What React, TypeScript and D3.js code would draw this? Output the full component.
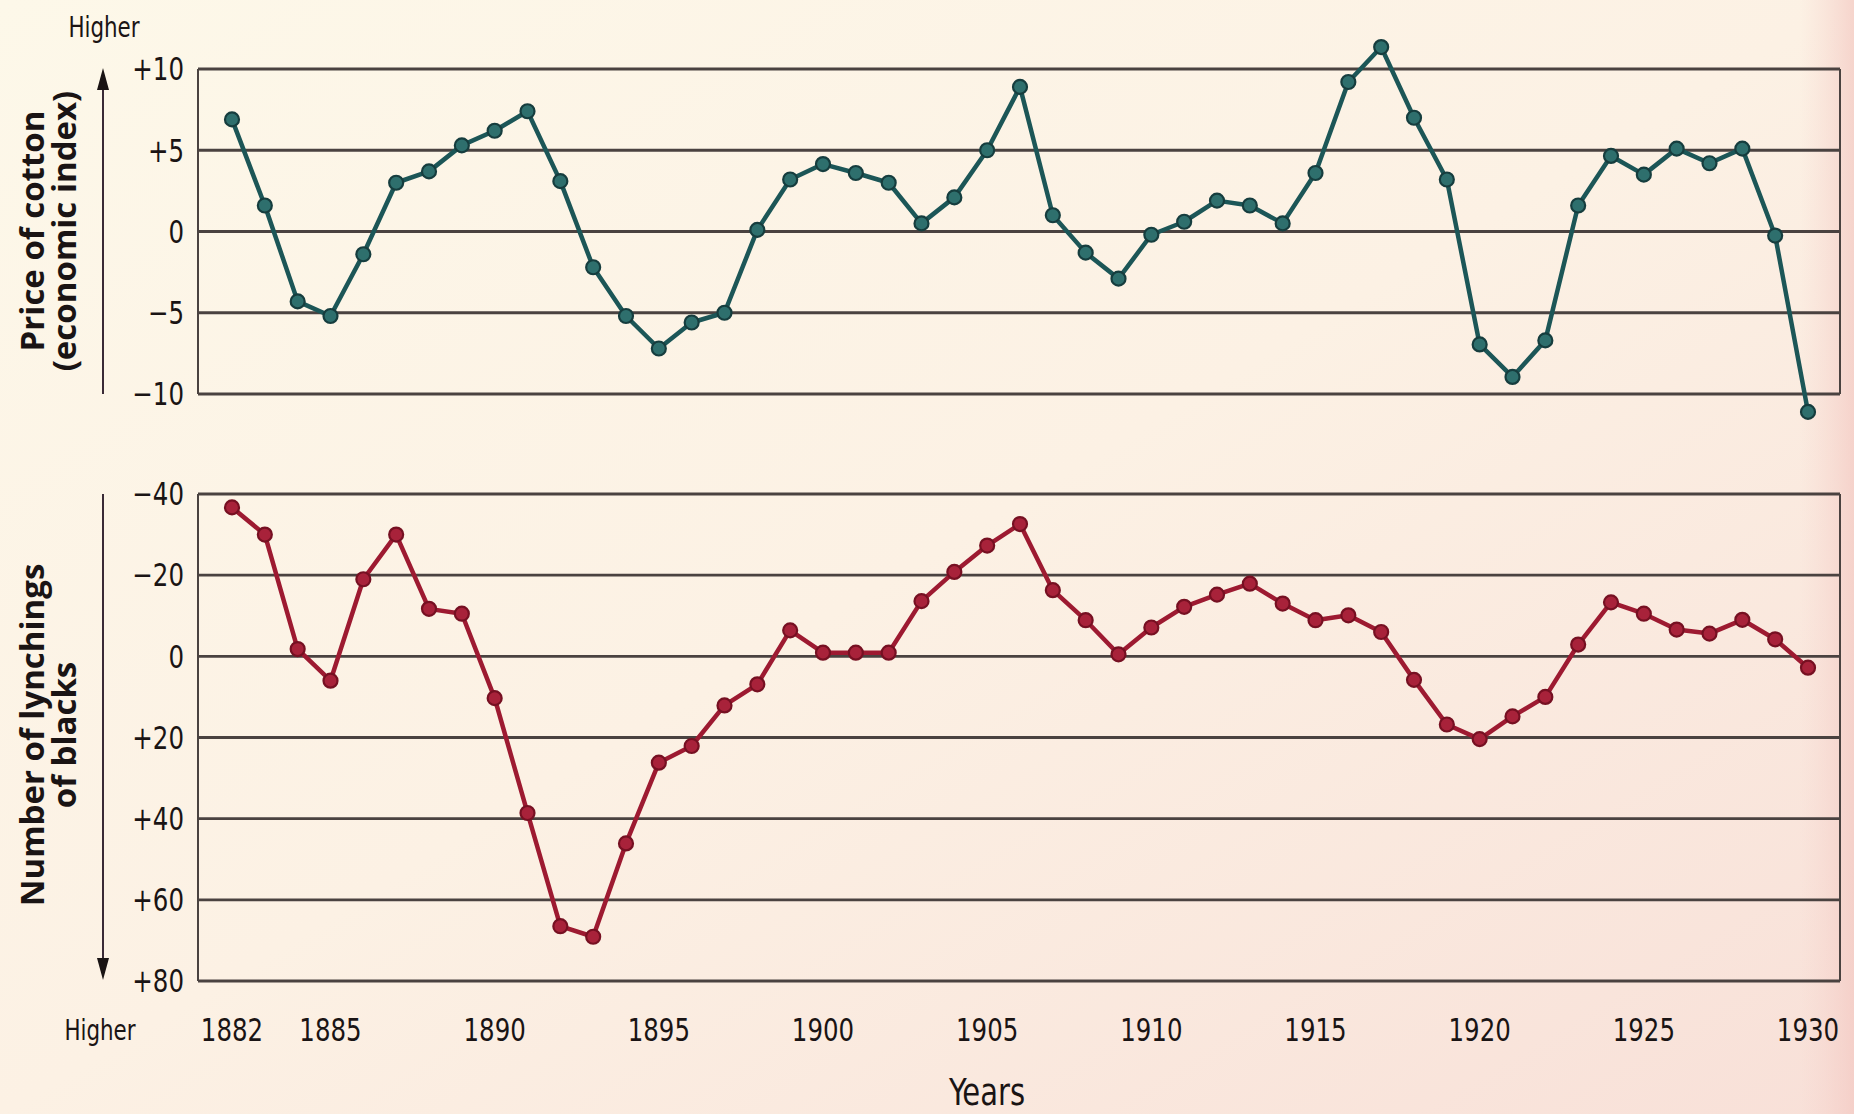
import React from "react";
import * as d3 from "d3";

const years: number[] = d3.range(1882, 1931);

const cottonPrice: number[] = [
  6.9, 1.6, -4.3, -5.2, -1.4, 3.0, 3.7, 5.3, 6.2, 7.4,
  3.1, -2.2, -5.2, -7.2, -5.6, -5.0, 0.1, 3.2, 4.15, 3.6,
  3.0, 0.5, 2.1, 5.0, 8.9, 1.0, -1.3, -2.9, -0.2, 0.6,
  1.9, 1.6, 0.5, 3.6, 9.2, 11.35, 7.0, 3.2, -6.95, -8.95,
  -6.7, 1.6, 4.65, 3.5, 5.1, 4.2, 5.1, -0.25, -11.1,
];

const lynchings: number[] = [
  -36.7, -30.0, -1.8, 6.0, -19.0, -30.0, -11.7, -10.5, 10.3, 38.6,
  66.5, 69.1, 46.1, 26.2, 22.1, 12.1, 6.9, -6.4, -0.9, -0.9,
  -0.9, -13.6, -20.8, -27.3, -32.6, -16.3, -8.9, -0.5, -7.1, -12.2,
  -15.2, -17.9, -13.0, -8.9, -10.1, -6.0, 5.8, 16.8, 20.4, 14.8,
  10.0, -2.9, -13.3, -10.5, -6.6, -5.6, -9.0, -4.2, 2.8,
];

const cottonTicks: number[] = [10, 5, 0, -5, -10];
const cottonTickLabels: string[] = ["+10", "+5", "0", "\u22125", "\u221210"];
const lynchTicks: number[] = [-40, -20, 0, 20, 40, 60, 80];
const lynchTickLabels: string[] = ["\u221240", "\u221220", "0", "+20", "+40", "+60", "+80"];
const yearTicks: number[] = [1882, 1885, 1890, 1895, 1900, 1905, 1910, 1915, 1920, 1925, 1930];

const W = 1854;
const H = 1114;
const LEFT = 198;
const RIGHT = 1840;

const narrow = "'DejaVu Sans Condensed', 'DejaVu Sans', sans-serif";
const bold = "'Open Sans', 'Noto Sans', sans-serif";
const SQ = 0.85;

const TEAL = "#1c5657";
const TEAL_FILL = "#2e6f6d";
const RED = "#9d1a31";
const RED_FILL = "#a8223a";
const GRID = "#4a4240";
const INK = "#1a1414";

function NText(props: {
  x: number;
  y: number;
  size: number;
  anchor: "start" | "middle" | "end";
  baseline?: string;
  children: React.ReactNode;
}) {
  return (
    <text
      transform={`translate(${props.x},${props.y}) scale(${SQ},1)`}
      textAnchor={props.anchor}
      dominantBaseline={props.baseline as any}
      fontFamily={narrow}
      fontSize={props.size}
      fontStretch="condensed"
      fill={INK}
    >
      {props.children}
    </text>
  );
}

export default function App() {
  const x = d3.scaleLinear().domain([1882, 1930]).range([232, 1808]);
  const yTop = d3.scaleLinear().domain([-10, 10]).range([394, 69]);
  const yBot = d3.scaleLinear().domain([-40, 80]).range([494, 981]);

  const topLine = d3
    .line<number>()
    .x((_, i) => x(years[i]))
    .y((d) => yTop(d));
  const botLine = d3
    .line<number>()
    .x((_, i) => x(years[i]))
    .y((d) => yBot(d));

  return (
    <svg
      width={W}
      height={H}
      style={{ position: "absolute", left: 0, top: 0, display: "block" }}
    >
      <defs>
        <linearGradient id="bg" x1="0" y1="0" x2="1" y2="1">
          <stop offset="0" stopColor="#fdf8e9" />
          <stop offset="0.5" stopColor="#fcf1e4" />
          <stop offset="1" stopColor="#f8e0d8" />
        </linearGradient>
        <linearGradient id="edge" x1="0" y1="0" x2="1" y2="0">
          <stop offset="0" stopColor="#f6d2cc" stopOpacity="0" />
          <stop offset="1" stopColor="#f3c8c2" stopOpacity="0.7" />
        </linearGradient>
      </defs>
      <rect x={0} y={0} width={W} height={H} fill="url(#bg)" />
      <rect x={1800} y={0} width={54} height={H} fill="url(#edge)" />

      {/* Top panel grid */}
      {cottonTicks.map((t) => (
        <line key={"tg" + t} x1={LEFT} x2={RIGHT} y1={yTop(t)} y2={yTop(t)} stroke={GRID} strokeWidth={2.8} />
      ))}
      <line x1={LEFT} x2={LEFT} y1={yTop(10)} y2={yTop(-10)} stroke={GRID} strokeWidth={2} />
      <line x1={RIGHT} x2={RIGHT} y1={yTop(10)} y2={yTop(-10)} stroke={GRID} strokeWidth={2} />
      {cottonTicks.map((t, i) => (
        <NText key={"tl" + t} x={184} y={yTop(t)} size={32} anchor="end" baseline="central">
          {cottonTickLabels[i]}
        </NText>
      ))}

      {/* Bottom panel grid */}
      {lynchTicks.map((t) => (
        <line key={"bg" + t} x1={LEFT} x2={RIGHT} y1={yBot(t)} y2={yBot(t)} stroke={GRID} strokeWidth={2.8} />
      ))}
      <line x1={LEFT} x2={LEFT} y1={yBot(-40)} y2={yBot(80)} stroke={GRID} strokeWidth={2} />
      <line x1={RIGHT} x2={RIGHT} y1={yBot(-40)} y2={yBot(80)} stroke={GRID} strokeWidth={2} />
      {lynchTicks.map((t, i) => (
        <NText key={"bl" + t} x={184} y={yBot(t)} size={32} anchor="end" baseline="central">
          {lynchTickLabels[i]}
        </NText>
      ))}

      {/* Series lines */}
      <path d={topLine(cottonPrice) ?? ""} fill="none" stroke={TEAL} strokeWidth={4.5} strokeLinejoin="round" />
      {cottonPrice.map((v, i) => (
        <circle key={"tc" + i} cx={x(years[i])} cy={yTop(v)} r={7} fill={TEAL_FILL} stroke="#163d3e" strokeWidth={2.2} />
      ))}
      <path d={botLine(lynchings) ?? ""} fill="none" stroke={RED} strokeWidth={4.5} strokeLinejoin="round" />
      {lynchings.map((v, i) => (
        <circle key={"rc" + i} cx={x(years[i])} cy={yBot(v)} r={7} fill={RED_FILL} stroke="#761022" strokeWidth={2.2} />
      ))}

      {/* Arrows */}
      <line x1={103} x2={103} y1={394} y2={86} stroke="#3a2a36" strokeWidth={2} />
      <path d="M103,68 L97,90 L109,90 Z" fill={INK} />
      <line x1={103} x2={103} y1={494} y2={960} stroke="#3a2a36" strokeWidth={2} />
      <path d="M103,980 L97,958 L109,958 Z" fill={INK} />

      {/* Axis titles */}
      <g transform="translate(44,231) rotate(-90)">
        <text textAnchor="middle" fontFamily={bold} fontWeight={700} fontSize={33} fill={INK}>
          Price of cotton
        </text>
      </g>
      <g transform="translate(76,231) rotate(-90)">
        <text textAnchor="middle" fontFamily={bold} fontWeight={700} fontSize={33} fill={INK}>
          (economic index)
        </text>
      </g>
      <g transform="translate(44,735) rotate(-90)">
        <text textAnchor="middle" fontFamily={bold} fontWeight={700} fontSize={33} fill={INK}>
          Number of lynchings
        </text>
      </g>
      <g transform="translate(76,735) rotate(-90)">
        <text textAnchor="middle" fontFamily={bold} fontWeight={700} fontSize={33} fill={INK}>
          of blacks
        </text>
      </g>

      <NText x={104} y={37} size={28} anchor="middle">
        Higher
      </NText>
      <NText x={100} y={1040} size={28} anchor="middle">
        Higher
      </NText>

      {/* X axis labels */}
      {yearTicks.map((yr) => (
        <NText key={"x" + yr} x={x(yr)} y={1041} size={32} anchor="middle">
          {yr}
        </NText>
      ))}
      <NText x={987} y={1105} size={38} anchor="middle">
        Years
      </NText>
    </svg>
  );
}
